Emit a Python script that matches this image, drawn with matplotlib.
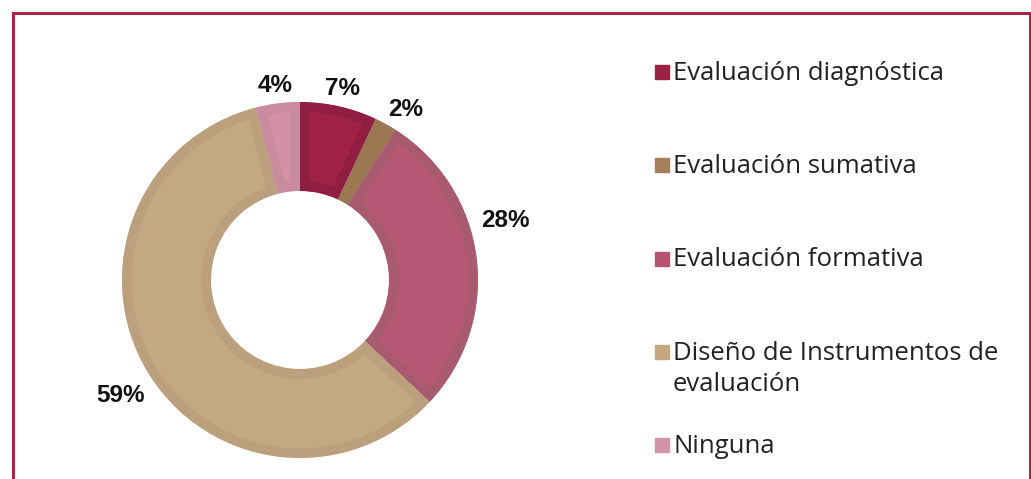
import numpy as np
import matplotlib
matplotlib.use("Agg")
import matplotlib.pyplot as plt
from matplotlib.patches import Rectangle

# data
categories = ["Evaluación diagnóstica", "Evaluación sumativa", "Evaluación formativa",
              "Diseño de Instrumentos de\nevaluación", "Ninguna"]
shares = [7, 2, 28, 59, 4]
pct_labels = ["7%", "2%", "28%", "59%", "4%"]

# style
fill_colors = ["#A02248", "#A47F57", "#B65875", "#C4A882", "#D291A5"]
edge_colors = ["#8F1E42", "#9B7852", "#A85A71", "#BCA07D", "#C88C9E"]
legend_colors = ["#9B2247", "#A57F58", "#B45471", "#C4A77F", "#D195A7"]
# label radial distance / angle tweak (deg)
label_r = [1.10, 1.13, 1.20, 1.20, 1.10]
label_dt = [0, -3, 9, 2, 0]

W, H = 1031, 479
fig = plt.figure(figsize=(W / 100, H / 100), dpi=100)

R = 178  # outer radius in px
cx, cy = 300, H - 280
lim = 1.4
size = 2 * lim * R
ax = fig.add_axes([(cx - size / 2) / W, (cy - size / 2) / H, size / W, size / H])
wedges, _ = ax.pie(shares, colors=fill_colors, startangle=90, counterclock=False,
                   radius=1.0, wedgeprops=dict(width=0.5))
for w, ec in zip(wedges, edge_colors):
    w.set_edgecolor(ec)
    w.set_linewidth(14)
    w.set_joinstyle("miter")
    w.set_clip_on(True)
    w.set_clip_path(w)  # keep the darker rim inside each slice
ax.set_xlim(-lim, lim)
ax.set_ylim(-lim, lim)
ax.set_aspect("equal")
ax.axis("off")

for w, txt, r, dt in zip(wedges, pct_labels, label_r, label_dt):
    ang = np.deg2rad((w.theta1 + w.theta2) / 2 + dt)
    ax.text(r * np.cos(ang), r * np.sin(ang), txt, ha="center", va="center",
            fontsize=17.5, fontweight="bold", family="Liberation Sans", color="#111111")

# legend drawn by hand so first lines stay evenly spaced
y0 = H - 72
step = 93.25
line_h = 31
for i, (lab, c) in enumerate(zip(categories, legend_colors)):
    y = y0 - i * step
    fig.patches.append(Rectangle((655 / W, (y - 7) / H), 14 / W, 14 / H,
                                 transform=fig.transFigure, color=c))
    for j, line in enumerate(lab.split("\n")):
        fig.text(673 / W, (y - 8 - j * line_h) / H, line, ha="left", va="baseline",
                 fontsize=18.5, family="Open Sans", color="#222222")

# outer frame
fig.patches.append(Rectangle((13 / W, -0.1), (1029.5 - 13) / W, 1.1 - 13 / H,
                             transform=fig.transFigure, fill=False,
                             edgecolor="#A8264A", linewidth=2.2))

fig.savefig("out.png", dpi=100, facecolor="white")
